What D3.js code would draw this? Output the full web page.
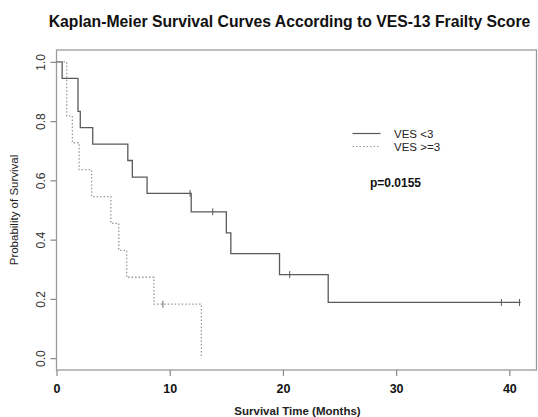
<!DOCTYPE html>
<html><head><meta charset="utf-8">
<script src="https://cdn.jsdelivr.net/npm/d3@7"></script>
<style>body{margin:0;background:#fff}svg{display:block}text{font-family:"Liberation Sans",Arial,sans-serif}</style>
</head><body>
<script>
// Data
const groupNames = ["VES <3", "VES >=3"];
// step times (months) and survival after each step
const timesLow = [0, 0.5, 1.9, 2.1, 3.2, 6.3, 6.7, 8.0, 11.9, 15.0, 15.4, 19.7, 24.0];
const survLow  = [1.0, 0.944, 0.833, 0.778, 0.722, 0.667, 0.611, 0.556, 0.494, 0.423, 0.353, 0.282, 0.188];
const endLow = 41.0;
const censorLow = [11.8, 13.8, 20.6, 39.3, 40.9];
const timesHigh = [0, 0.9, 1.4, 2.0, 3.1, 4.8, 5.5, 6.2, 8.6, 12.8];
const survHigh  = [1.0, 0.818, 0.727, 0.636, 0.545, 0.455, 0.364, 0.273, 0.182, 0.0];
const endHigh = 12.8;
const censorHigh = [9.4];
const xTicks = [0, 10, 20, 30, 40];
const yTicks = [0.0, 0.2, 0.4, 0.6, 0.8, 1.0];
const pValueText = "p=0.0155";

const W = 538, H = 417;
const box = {l: 56.5, r: 536.5, t: 50, b: 370};
const svg = d3.select("body").append("svg").attr("width", W).attr("height", H);

const x = d3.scaleLinear().domain([0, 42.4]).range([box.l, box.r]);
const y = d3.scaleLinear().domain([-0.04, 1.04]).range([box.b, box.t]);

// Title
const title = svg.append("text").attr("x", 289.5).attr("y", 27).attr("text-anchor", "middle")
  .attr("font-weight", "bold").attr("font-size", 16).attr("fill", "#111")
  .text("Kaplan-Meier Survival Curves According to VES-13 Frailty Score");
const tw = title.node().getComputedTextLength();
title.attr("font-size", 16 * 482 / tw);

// Box
svg.append("rect").attr("x", box.l).attr("y", box.t).attr("width", box.r - box.l).attr("height", box.b - box.t)
  .attr("fill", "none").attr("stroke", "#9a9a9a").attr("stroke-width", 1.3);

// X axis
const gx = svg.append("g").attr("transform", `translate(0,${box.b})`)
  .call(d3.axisBottom(x).tickValues(xTicks).tickSize(6).tickPadding(8).tickFormat(d3.format("d")));
gx.select(".domain").remove();
gx.selectAll(".tick line").attr("stroke", "#888").attr("stroke-width", 1.2);
gx.selectAll(".tick text").attr("font-size", 12.5).attr("font-weight", "bold").attr("fill", "#111")
  .attr("font-family", "Liberation Sans, Arial, sans-serif");

// Y axis
const gy = svg.append("g").attr("transform", `translate(${box.l},0)`)
  .call(d3.axisLeft(y).tickValues(yTicks).tickSize(6).tickFormat(d3.format(".1f")));
gy.select(".domain").remove();
gy.selectAll(".tick line").attr("stroke", "#888").attr("stroke-width", 1.2);
gy.selectAll(".tick text").attr("font-size", 12).attr("fill", "#333")
  .attr("font-family", "Liberation Sans, Arial, sans-serif")
  .attr("text-anchor", "middle").attr("x", 0)
  .attr("transform", "translate(-16,0) rotate(-90)").attr("dy", "0.35em");

// Axis titles
svg.append("text").attr("x", 297.5).attr("y", 415).attr("text-anchor", "middle")
  .attr("font-size", 11.5).attr("font-weight", "bold").attr("fill", "#222").text("Survival Time (Months)");
svg.append("text").attr("transform", `translate(18,210) rotate(-90)`).attr("text-anchor", "middle")
  .attr("font-size", 11.5).attr("fill", "#222").text("Probability of Survival");

function stepPts(times, surv, end) {
  const pts = [];
  for (let i = 0; i < times.length; i++) {
    if (i > 0) pts.push([times[i], surv[i - 1]]);
    pts.push([times[i], surv[i]]);
  }
  pts.push([end, surv[surv.length - 1]]);
  return pts;
}
function survAt(times, surv, t) {
  let s = surv[0];
  for (let i = 0; i < times.length; i++) if (times[i] <= t) s = surv[i];
  return s;
}
const line = d3.line().x(d => x(d[0])).y(d => y(d[1]));

const series = [
  {times: timesLow, surv: survLow, end: endLow, cens: censorLow, color: "#5a5a5a", tick: "#5a5a5a", dash: null, w: 1.3},
  {times: timesHigh, surv: survHigh, end: endHigh, cens: censorHigh, color: "#9a9a9a", tick: "#666", dash: "1.5,2", w: 1.3}
];
series.forEach(s => {
  svg.append("path").attr("d", line(stepPts(s.times, s.surv, s.end)))
    .attr("fill", "none").attr("stroke", s.color).attr("stroke-width", s.w)
    .attr("stroke-dasharray", s.dash);
  s.cens.forEach(c => {
    const cy = y(survAt(s.times, s.surv, c));
    svg.append("line").attr("x1", x(c)).attr("x2", x(c)).attr("y1", cy - 3.5).attr("y2", cy + 3.5)
      .attr("stroke", s.tick).attr("stroke-width", 1);
  });
});

// Legend
const legY = [133.5, 146.5];
series.forEach((s, i) => {
  svg.append("line").attr("x1", 352.5).attr("x2", 380.5).attr("y1", legY[i]).attr("y2", legY[i])
    .attr("stroke", s.color).attr("stroke-width", 1.2).attr("stroke-dasharray", s.dash);
  svg.append("text").attr("x", 394).attr("y", legY[i]).attr("dy", "0.36em")
    .attr("font-size", 11.5).attr("fill", "#222").text(groupNames[i]);
});
svg.append("text").attr("x", 370).attr("y", 183).attr("dy", "0.36em")
  .attr("font-size", 12).attr("font-weight", "bold").attr("fill", "#111").text(pValueText);
</script>
</body></html>
